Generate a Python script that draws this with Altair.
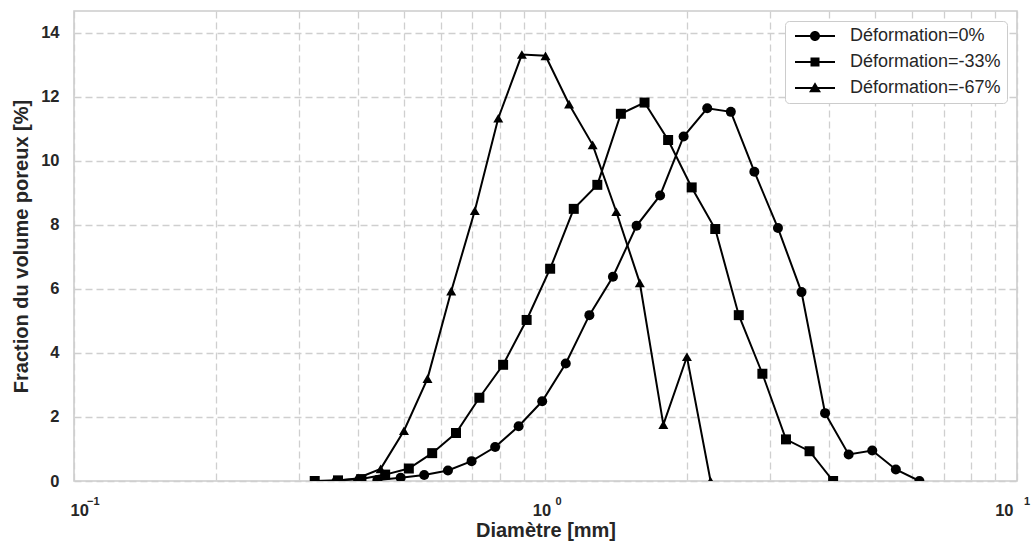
import altair as alt
import pandas as pd

series_names = ["Déformation=0%", "Déformation=-33%", "Déformation=-67%"]

# Déformation = 0 %  (circles)
d0_x = [0.440, 0.493, 0.553, 0.621, 0.697, 0.782, 0.877, 0.984, 1.104, 1.239, 1.390, 1.560,
        1.750, 1.963, 2.203, 2.472, 2.773, 3.112, 3.491, 3.917, 4.395, 4.932, 5.534, 6.209]
d0_y = [0.03, 0.10, 0.19, 0.33, 0.62, 1.06, 1.71, 2.49, 3.67, 5.18, 6.38, 7.97,
        8.92, 10.76, 11.64, 11.53, 9.66, 7.90, 5.90, 2.12, 0.83, 0.95, 0.36, 0.0]

# Déformation = -33 %  (squares)
d33_x = [0.324, 0.363, 0.407, 0.457, 0.513, 0.575, 0.646, 0.724, 0.813, 0.912, 1.023, 1.148,
         1.288, 1.445, 1.622, 1.820, 2.042, 2.291, 2.570, 2.884, 3.236, 3.631, 4.074]
d33_y = [0.0, 0.02, 0.06, 0.20, 0.39, 0.87, 1.50, 2.60, 3.63, 5.03, 6.63, 8.50,
         9.25, 11.47, 11.82, 10.65, 9.17, 7.87, 5.18, 3.35, 1.30, 0.93, 0.0]

# Déformation = -67 %  (triangles)
d67_x = [0.355, 0.398, 0.447, 0.501, 0.562, 0.631, 0.708, 0.794, 0.891, 1.000, 1.122, 1.259,
         1.413, 1.585, 1.778, 1.995, 2.239]
d67_y = [0.0, 0.08, 0.38, 1.57, 3.20, 5.93, 8.44, 11.33, 13.32, 13.28, 11.77, 10.50,
         8.41, 6.19, 1.76, 3.88, 0.0]

x_tick_values = [0.1, 0.2, 0.3, 0.4, 0.5, 0.6, 0.7, 0.8, 0.9,
                 1, 2, 3, 4, 5, 6, 7, 8, 9, 10]
x_decades = [0.1, 1, 10]
y_tick_values = [0, 2, 4, 6, 8, 10, 12, 14]

rows = []
for name, xs, ys in zip(series_names, [d0_x, d33_x, d67_x], [d0_y, d33_y, d67_y]):
    for i, (xv, yv) in enumerate(zip(xs, ys)):
        rows.append({"series": name, "d": xv, "f": yv, "order": i})
df = pd.DataFrame(rows)

FONT = "Liberation Sans"
TXT = "#262626"

x_scale = alt.Scale(type="log", domain=[0.1, 10], nice=False)

x_main = alt.X(
    "d:Q",
    scale=x_scale,
    axis=alt.Axis(
        values=x_tick_values,
        labelExpr="indexof([0.1, 1, 10], datum.value) >= 0 ? '10' : ''",
        labelPadding=21,
        labelOffset=-4,
        titlePadding=2,
        labelOverlap=False,
        labelFontSize=16.5,
    ),
    title="Diamètre [mm]",
)
x_sup = alt.X(
    "d:Q",
    scale=x_scale,
    axis=alt.Axis(
        orient="bottom",
        values=x_decades,
        labelExpr="datum.value == 0.1 ? '−1' : datum.value == 1 ? '0' : '1'",
        grid=False,
        labelPadding=14,
        labelOffset=12.5,
        labelFontSize=11,
        labelOverlap=False,
        title=None,
    ),
)
x_none = alt.X("d:Q", scale=x_scale, axis=None)

y_enc = alt.Y(
    "f:Q",
    scale=alt.Scale(domain=[0, 14.68], nice=False),
    axis=alt.Axis(values=y_tick_values, labelPadding=15, titlePadding=9, labelFontSize=16.5),
    title="Fraction du volume poreux [%]",
)

base = alt.Chart(df)

lines = base.mark_line(color="black", strokeWidth=2, clip=True).encode(
    x=x_main, y=y_enc, detail="series:N", order="order:Q"
)

points = base.mark_point(filled=True, color="black", opacity=1, clip=True).encode(
    x=x_sup,
    y=y_enc,
    shape=alt.Shape(
        "series:N",
        scale=alt.Scale(domain=series_names, range=["circle", "square", "triangle-up"]),
        legend=None,
    ),
    size=alt.Size(
        "series:N",
        scale=alt.Scale(domain=series_names, range=[100, 100, 144]),
        legend=None,
    ),
)

line_bar = "M-1,-0.2 H7 V0.2 H-1 Z "
legend_paths = [
    line_bar + "M4,0 A1,1 0 1,1 2,0 A1,1 0 1,1 4,0 Z",
    line_bar + "M2.1,-0.9 H3.9 V0.9 H2.1 Z",
    line_bar + "M3,-1.15 L4.2,0.85 L1.8,0.85 Z",
]

legend_layer = base.mark_point(filled=True, color="black", opacity=0, clip=True).encode(
    x=x_none,
    y=y_enc,
    shape=alt.Shape(
        "series:N",
        scale=alt.Scale(domain=series_names, range=legend_paths),
        legend=alt.Legend(
            title=None,
            orient="top-right",
            offset=10,
            padding=6,
            fillColor="white",
            strokeColor="#cccccc",
            cornerRadius=4,
            labelFont=FONT,
            labelFontSize=18,
            labelColor=TXT,
            labelLimit=400,
            labelOffset=41,
            rowPadding=8,
            symbolSize=100,
            symbolOpacity=1,
            symbolFillColor="black",
            symbolStrokeWidth=0,
        ),
    ),
)

chart = (
    alt.layer(lines, points, legend_layer)
    .resolve_scale(shape="independent", size="independent")
    .resolve_axis(x="independent")
    .properties(
        width=943,
        height=470,
        autosize=alt.AutoSizeParams(type="none"),
        padding={"left": 74, "top": 11, "right": 15, "bottom": 64},
        background="white",
    )
    .configure_view(stroke="#cccccc", strokeWidth=1.6)
    .configure_axis(
        grid=True,
        gridColor="#cfcfcf",
        gridDash=[7, 4],
        gridWidth=1.3,
        ticks=False,
        domain=False,
        labelFont=FONT,
        labelFontWeight="bold",
        labelColor=TXT,
        titleFont=FONT,
        titleFontSize=20,
        titleFontWeight="bold",
        titleColor=TXT,
    )
)

chart.save("out.html", embed_options={"renderer": "svg", "actions": False})
